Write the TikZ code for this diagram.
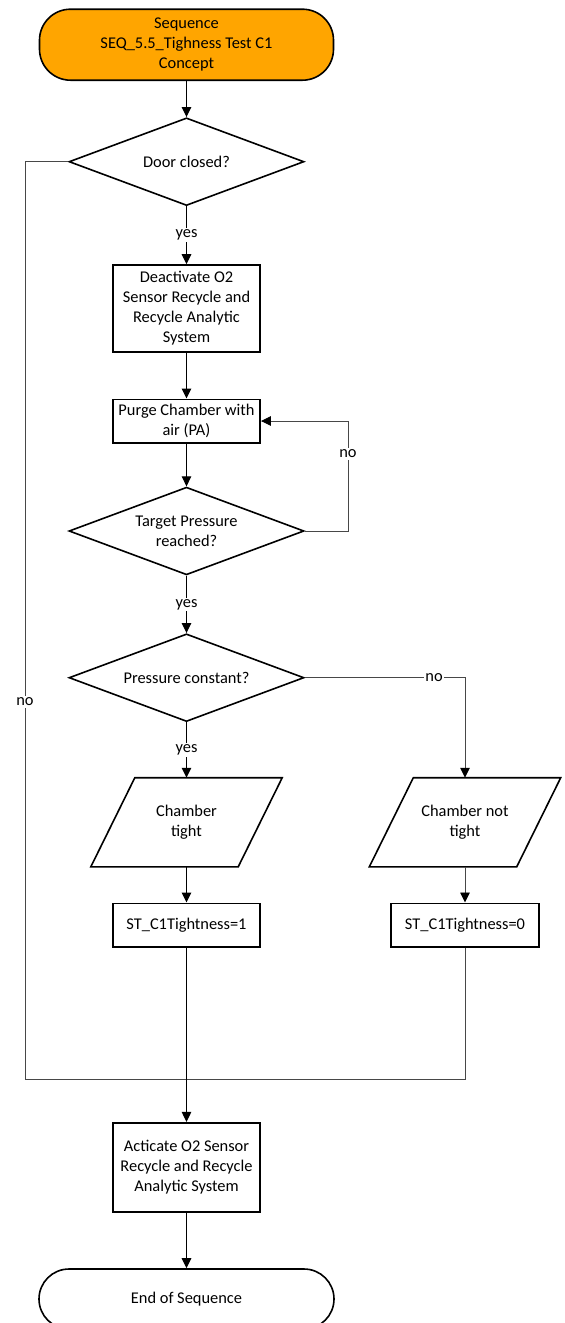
\documentclass[tikz,border=0pt]{standalone}
\usepackage{fontspec}
\setmainfont{Carlito}
\usetikzlibrary{shapes.geometric,arrows.meta}
\definecolor{termorange}{RGB}{255,165,0}
\begin{document}
\begin{tikzpicture}[x=1pt,y=-1pt,
  every node/.style={font=\fontsize{16.4}{20}\selectfont, align=center, inner sep=0pt},
  shapeline/.style={draw=black, line width=1.6pt},
  procbox/.style={shapeline, rectangle, minimum width=147.3pt},
  decision/.style={shapeline, diamond, aspect=2.68, minimum width=235pt, minimum height=87.7pt},
  terminal/.style={shapeline, rectangle, rounded corners=31pt, minimum width=294pt},
  iobox/.style={rectangle, minimum width=191pt, minimum height=88.7pt},
  flow/.style={line width=1.1pt, draw=black, -{Triangle[length=10pt,width=9.5pt]}},
  sideline/.style={line width=0.9pt, draw=black!72},
  tipblack/.style={-{Triangle[length=10pt,width=9.5pt,color=black]}},
  lbl/.style={fill=white, inner sep=1.5pt}
]
\fill[white] (0,0) rectangle (565,1323);
\useasboundingbox (0,0) rectangle (565,1323);

% nodes
\node[terminal, fill=termorange, minimum height=71pt] (start) at (186.5,44.7) {Sequence\\SEQ\_5.5\_Tighness Test C1\\Concept};
\node[decision] (d1) at (186.5,161.7) {Door closed?};
\node[procbox, minimum height=87pt] (r1) at (186.5,308.5) {Deactivate O2\\Sensor Recycle and\\Recycle Analytic\\System};
\node[procbox, minimum height=43.4pt] (r2) at (186.5,421) {Purge Chamber with\\air (PA)};
\node[decision] (d2) at (186.5,531) {Target Pressure\\reached?};
\node[decision] (d3) at (186.5,677.7) {Pressure constant?};
\node[iobox] (p1) at (186.5,822.3) {Chamber\\tight};
\node[iobox] (p2) at (465,822.3) {Chamber not\\tight};
\draw[shapeline] ([xshift=44pt]p1.north west) -- (p1.north east) -- ([xshift=-44pt]p1.south east) -- (p1.south west) -- cycle;
\draw[shapeline] ([xshift=44pt]p2.north west) -- (p2.north east) -- ([xshift=-44pt]p2.south east) -- (p2.south west) -- cycle;
\node[procbox, minimum height=43.4pt] (st1) at (186.5,925) {ST\_C1Tightness=1};
\node[procbox, minimum width=148pt, minimum height=43.4pt] (st0) at (465,925) {ST\_C1Tightness=0};
\node[procbox, minimum height=89pt] (act) at (186.5,1167.2) {Acticate O2 Sensor\\Recycle and Recycle\\Analytic System};
\node[terminal, rounded corners=30pt, minimum height=60pt, minimum width=295pt] (end) at (186.5,1299) {End of Sequence};

% helper coordinates
\coordinate (lpA) at (348,531);
\coordinate (lpB) at (348,421);
\coordinate (rA) at (465,677.7);
\coordinate (lA) at (25,161.7);
\coordinate (lB) at (25,1079);
\coordinate (mJ) at (186.5,1079);
\coordinate (rB) at (465,1079);

% connectors
\draw[flow] (start) -- (d1);
\draw[flow] (d1) -- node[lbl]{yes} (r1);
\draw[flow] (r1) -- (r2);
\draw[flow] (r2) -- (d2);
\draw[sideline, tipblack] (d2.east) -- (lpA) -- node[lbl, pos=0.7]{no} (lpB) -- (r2.east);
\draw[flow] (d2) -- node[lbl]{yes} (d3);
\draw[sideline, tipblack] (d3.east) -- node[lbl, pos=0.807]{no} (rA) -- (p2.north);
\draw[flow] (d3) -- node[lbl]{yes} (p1.north);
\draw[flow] (p1.south) -- (st1);
\draw[sideline, tipblack] (p2.south) -- (st0);
\draw[sideline] (d1.west) -- (lA) -- node[lbl, pos=0.589]{no} (lB) -- (mJ);
\draw[sideline] (st0.south) -- (rB) -- (mJ);
\draw[flow] (st1) -- (act);
\draw[flow] (act) -- (end);
\end{tikzpicture}
\end{document}
